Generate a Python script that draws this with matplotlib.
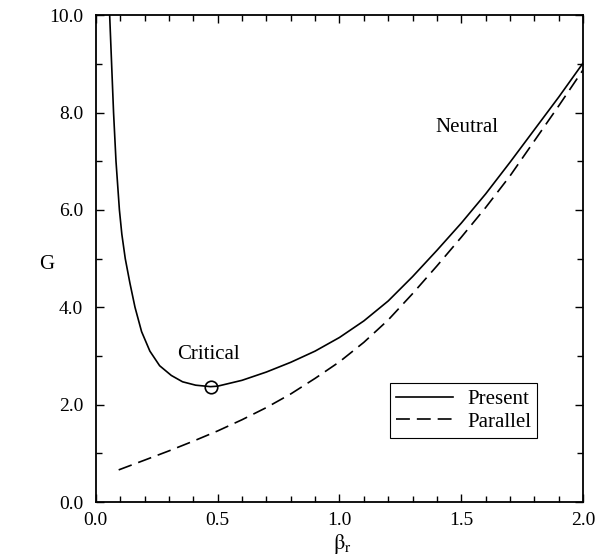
import matplotlib
matplotlib.use("Agg")
import matplotlib.pyplot as plt
from matplotlib.ticker import MultipleLocator, FormatStrFormatter

plt.rcParams['font.family'] = ['Liberation Serif', 'DejaVu Serif']
plt.rcParams['mathtext.fontset'] = 'stix'
plt.rcParams['lines.scale_dashes'] = False

# кривая "Present"
present_x = [0.057, 0.065, 0.073, 0.083, 0.097, 0.107, 0.121, 0.14, 0.161, 0.188,
             0.222, 0.262, 0.31, 0.356, 0.41, 0.471, 0.5, 0.6, 0.7, 0.8,
             0.9, 1.0, 1.1, 1.2, 1.3, 1.4, 1.5, 1.6, 1.7, 1.8, 1.9, 2.0]
present_g = [10.0, 9.0, 8.0, 7.0, 6.0, 5.5, 5.0, 4.5, 4.0, 3.5,
             3.1, 2.8, 2.6, 2.47, 2.40, 2.37, 2.38, 2.50, 2.67, 2.87,
             3.10, 3.38, 3.72, 4.13, 4.63, 5.17, 5.73, 6.33, 6.98, 7.65, 8.32, 9.02]

# кривая "Parallel"
parallel_x = [0.094, 0.2, 0.3, 0.4, 0.5, 0.6, 0.7, 0.8, 0.9, 1.0,
              1.1, 1.2, 1.3, 1.4, 1.5, 1.6, 1.7, 1.8, 1.9, 2.0]
parallel_g = [0.66, 0.86, 1.05, 1.25, 1.46, 1.69, 1.94, 2.22, 2.54, 2.88,
              3.28, 3.74, 4.28, 4.85, 5.44, 6.05, 6.70, 7.42, 8.14, 8.88]

critical_x, critical_g = 0.471, 2.37

fig = plt.figure(figsize=(6.1, 5.57), dpi=100)
ax = fig.add_axes([0.157, 0.0987, 0.799, 0.874])

ax.plot(present_x, present_g, '-', color='black', lw=1.2, label='Present')
ax.plot(parallel_x, parallel_g, color='black', lw=1.2, dashes=(10, 5), label='Parallel')
ax.plot([critical_x], [critical_g], 'o', mfc='none', mec='black', ms=9, mew=1.2)  # критическая точка

ax.text(0.462, 3.04, 'Critical', ha='center', va='center', fontsize=15)
ax.text(1.524, 7.70, 'Neutral', ha='center', va='center', fontsize=15)

ax.set_xlim(0, 2.0)
ax.set_ylim(0, 10.0)
ax.xaxis.set_major_locator(MultipleLocator(0.5))
ax.xaxis.set_minor_locator(MultipleLocator(0.1))
ax.yaxis.set_major_locator(MultipleLocator(2.0))
ax.yaxis.set_minor_locator(MultipleLocator(1.0))
ax.xaxis.set_major_formatter(FormatStrFormatter('%.1f'))
ax.yaxis.set_major_formatter(FormatStrFormatter('%.1f'))
ax.tick_params(which='both', direction='in', top=True, right=True, labelsize=14, width=1)
ax.tick_params(axis='y', which='major', length=6, pad=9)
ax.tick_params(axis='x', which='major', length=6, pad=7)
ax.tick_params(which='minor', length=4)
for s in ax.spines.values():
    s.set_linewidth(1.3)

ax.set_xlabel(r'$\mathrm{\beta_r}$', fontsize=16, va='center')
ax.xaxis.set_label_coords(0.505, -0.086)
ax.set_ylabel('G', fontsize=15, rotation=0, ha='center', va='center')
ax.yaxis.set_label_coords(-0.10, 0.487)

leg = ax.legend(loc='upper right', bbox_to_anchor=(0.906, 0.244), borderaxespad=0,
                fontsize=15, frameon=True, fancybox=False, edgecolor='black', framealpha=1,
                handlelength=2.7, handletextpad=0.7, borderpad=0.3, labelspacing=0.15)
leg.get_frame().set_linewidth(0.8)

fig.savefig('out.png', dpi=100)
